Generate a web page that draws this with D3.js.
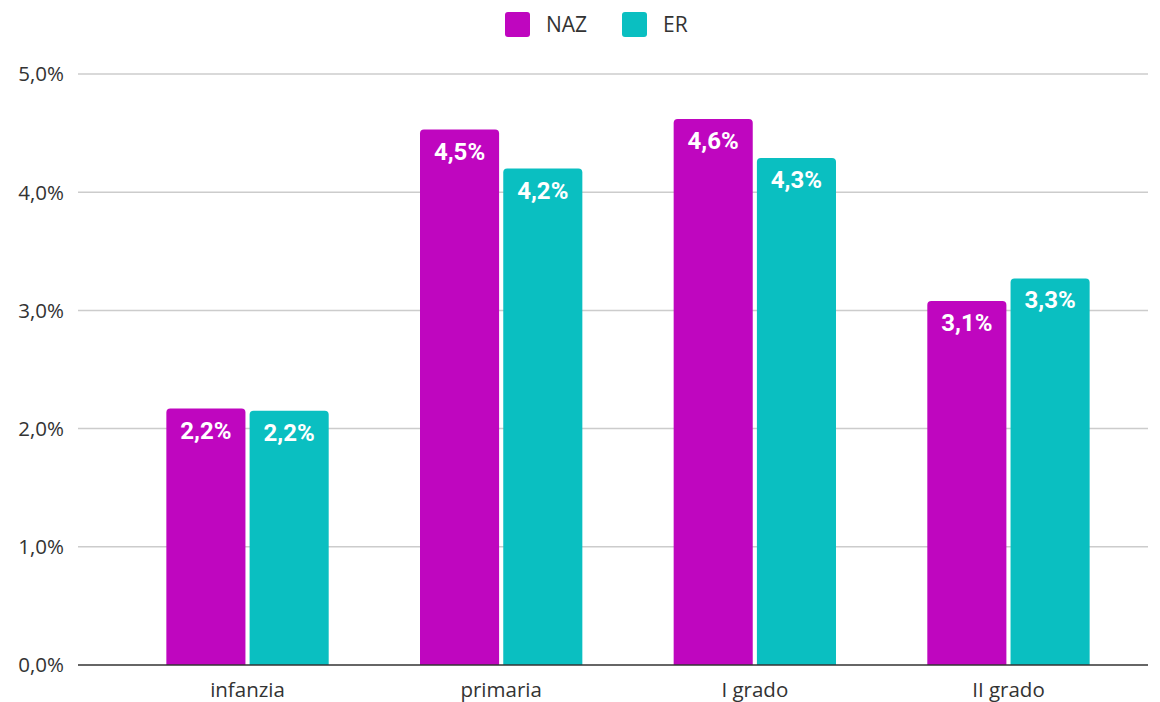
<!DOCTYPE html>
<html><head><meta charset="utf-8">
<script src="https://cdn.jsdelivr.net/npm/d3@7/dist/d3.min.js"></script>
<style>body{margin:0;background:#fff}svg{display:block}</style>
</head><body><svg id="c" width="1160" height="702"></svg>
<script>
const categories = ["infanzia", "primaria", "I grado", "II grado"];
const seriesNames = ["NAZ", "ER"];
const nazValues = [2.17, 4.53, 4.62, 3.08];
const erValues = [2.15, 4.20, 4.29, 3.27];
const nazLabels = ["2,2%", "4,5%", "4,6%", "3,1%"];
const erLabels = ["2,2%", "4,2%", "4,3%", "3,3%"];
const yTicks = [0, 1, 2, 3, 4, 5];
const colors = ["#bf06bf", "#0abfc1"];

const svg = d3.select("#c");
const y = d3.scaleLinear().domain([0, 5]).range([665, 74]);
const x0 = d3.scaleBand().domain(categories).range([120.7, 1135.3]).paddingInner(0.36).paddingOuter(0.18);
const x1 = d3.scaleBand().domain(seriesNames).range([0, x0.bandwidth()]).paddingInner(0.05);
const gridX0 = 78, gridX1 = 1148;

// gridlines
svg.append("g").selectAll("line").data(yTicks.filter(d => d > 0)).join("line")
  .attr("x1", gridX0).attr("x2", gridX1)
  .attr("y1", d => y(d)).attr("y2", d => y(d))
  .attr("stroke", "#cccccc").attr("stroke-width", 1.5);

// y labels
const fmt = d => d3.format(".1f")(d).replace(".", ",") + "%";
svg.append("g").selectAll("text").data(yTicks).join("text")
  .attr("x", 64).attr("y", d => y(d)).attr("dy", "0.36em")
  .attr("text-anchor", "end")
  .style("font-family", "'Open Sans', sans-serif").style("font-size", "20.5px")
  .attr("fill", "#333").text(fmt);

// bars
const data = categories.map((c, i) => ({c, vals: [
  {s: "NAZ", v: nazValues[i], l: nazLabels[i], col: colors[0]},
  {s: "ER", v: erValues[i], l: erLabels[i], col: colors[1]}
]}));
const r = 4;
function barPath(xl, w, yt, yb) {
  return `M${xl},${yb}V${yt + r}Q${xl},${yt} ${xl + r},${yt}H${xl + w - r}Q${xl + w},${yt} ${xl + w},${yt + r}V${yb}Z`;
}
const g = svg.append("g").selectAll("g").data(data).join("g")
  .attr("transform", d => `translate(${x0(d.c)},0)`);
g.selectAll("path").data(d => d.vals).join("path")
  .attr("d", d => barPath(x1(d.s), x1.bandwidth(), y(d.v), y(0)))
  .attr("fill", d => d.col);
g.selectAll("text").data(d => d.vals).join("text")
  .attr("x", d => x1(d.s) + x1.bandwidth() / 2)
  .attr("y", d => y(d.v) + 30)
  .attr("text-anchor", "middle")
  .style("font-family", "Roboto, sans-serif").style("font-weight", "bold").style("font-size", "24px")
  .attr("fill", "#fff").text(d => d.l);

// baseline
svg.append("line").attr("x1", gridX0).attr("x2", gridX1).attr("y1", y(0)).attr("y2", y(0))
  .attr("stroke", "#333").attr("stroke-width", 1.5);

// x labels
svg.append("g").selectAll("text").data(categories).join("text")
  .attr("x", d => x0(d) + x0.bandwidth() / 2).attr("y", 697)
  .attr("text-anchor", "middle")
  .style("font-family", "'Open Sans', sans-serif").style("font-size", "20.5px")
  .attr("fill", "#333").text(d => d);

// legend
const legX = [505, 622];
const lg = svg.append("g").selectAll("g").data(seriesNames).join("g")
  .attr("transform", (d, i) => `translate(${legX[i]},12)`);
lg.append("rect").attr("width", 25).attr("height", 25).attr("rx", 3).attr("fill", (d, i) => colors[i]);
lg.append("text").attr("x", 41).attr("y", 12.5).attr("dy", "0.36em")
  .style("font-family", "'Open Sans', sans-serif").style("font-size", "21px")
  .attr("fill", "#333").text(d => d);
</script></body></html>
